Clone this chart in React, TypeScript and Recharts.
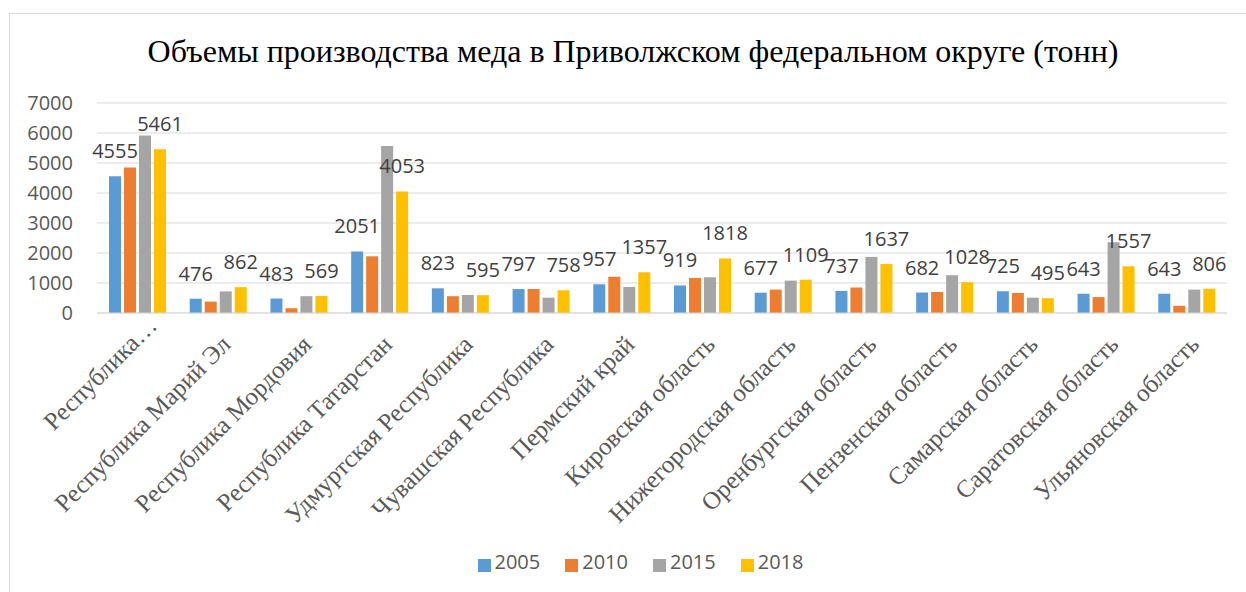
import { BarChart, Bar, XAxis, YAxis, CartesianGrid, Legend, LabelList } from "recharts";

const regions = [
  "Республика…",
  "Республика Марий Эл",
  "Республика Мордовия",
  "Республика Татарстан",
  "Удмуртская Республика",
  "Чувашская Республика",
  "Пермский край",
  "Кировская область",
  "Нижегородская область",
  "Оренбургская область",
  "Пензенская область",
  "Самарская область",
  "Саратовская область",
  "Ульяновская область",
];

const y2005 = [4555, 476, 483, 2051, 823, 797, 957, 919, 677, 737, 682, 725, 643, 643];
const y2010 = [4850, 380, 160, 1890, 560, 800, 1210, 1170, 780, 850, 700, 670, 530, 240];
const y2015 = [5920, 720, 560, 5570, 600, 510, 870, 1190, 1080, 1870, 1260, 510, 2360, 780];
const y2018 = [5461, 862, 569, 4053, 595, 758, 1357, 1818, 1109, 1637, 1028, 495, 1557, 806];

const yTicks = [0, 1000, 2000, 3000, 4000, 5000, 6000, 7000];

const data = regions.map((name, i) => ({
  name,
  "2005": y2005[i],
  "2010": y2010[i],
  "2015": y2015[i],
  "2018": y2018[i],
}));

const numFont = "'Open Sans', sans-serif";

// truncated label sits a little higher in the original
const XTick = (props: any) => {
  const { x, y, payload, index } = props;
  const truncated = index === 0;
  const tx = x + (truncated ? 21 : 14);
  const ty = y + (truncated ? 14 : 33);
  return (
    <text
      x={tx}
      y={ty}
      transform={`rotate(-45, ${tx}, ${ty})`}
      textAnchor="end"
      fontFamily="'Liberation Serif', serif"
      fontSize={25}
      fill="#595959"
    >
      {payload.value}
    </text>
  );
};

export default function App() {
  return (
    <div style={{ position: "absolute", left: 0, top: 0, width: 1246, height: 592, overflow: "hidden", background: "#fff" }}>
      <div style={{ position: "absolute", left: 9, top: 13, width: 1300, height: 700, border: "1px solid #d9d9d9" }} />
      <div
        style={{
          position: "absolute",
          left: 0,
          top: 33,
          width: 1266,
          textAlign: "center",
          fontFamily: "'Liberation Serif', serif",
          fontSize: 32,
          color: "#000",
        }}
      >
        Объемы производства меда в Приволжском федеральном округе (тонн)
      </div>
      <div style={{ position: "absolute", left: 0, top: 0 }}>
        <BarChart
          width={1246}
          height={592}
          data={data}
          margin={{ top: 103, right: 19, left: 0, bottom: 79 }}
          barSize={12}
          barGap={3}
        >
          <CartesianGrid vertical={false} stroke="#d9d9d9" />
          <XAxis
            dataKey="name"
            interval={0}
            height={200}
            tickLine={false}
            tickSize={0}
            tickMargin={0}
            axisLine={{ stroke: "#d9d9d9" }}
            tick={<XTick />}
          />
          <YAxis
            width={97}
            domain={[0, 7000]}
            ticks={yTicks}
            axisLine={false}
            tickLine={false}
            tickSize={0}
            tickMargin={24}
            tick={{ fill: "#595959", fontSize: 20, fontFamily: numFont }}
          />
          <Legend
            layout="horizontal"
            verticalAlign="middle"
            align="center"
            iconType="square"
            iconSize={13}
            wrapperStyle={{ top: 548, left: 16, width: 1274 }}
            formatter={(v: string) => (
              <span style={{ color: "#595959", fontSize: 20, fontFamily: numFont, marginRight: 15 }}>{v}</span>
            )}
          />
          <Bar dataKey="2005" fill="#5B9BD5" isAnimationActive={false}>
            <LabelList dataKey="2005" position="top" offset={18} fill="#404040" fontSize={20} fontFamily={numFont} />
          </Bar>
          <Bar dataKey="2010" fill="#ED7D31" isAnimationActive={false} />
          <Bar dataKey="2015" fill="#A5A5A5" isAnimationActive={false} />
          <Bar dataKey="2018" fill="#FFC000" isAnimationActive={false}>
            <LabelList dataKey="2018" position="top" offset={18} fill="#404040" fontSize={20} fontFamily={numFont} />
          </Bar>
        </BarChart>
      </div>
    </div>
  );
}
